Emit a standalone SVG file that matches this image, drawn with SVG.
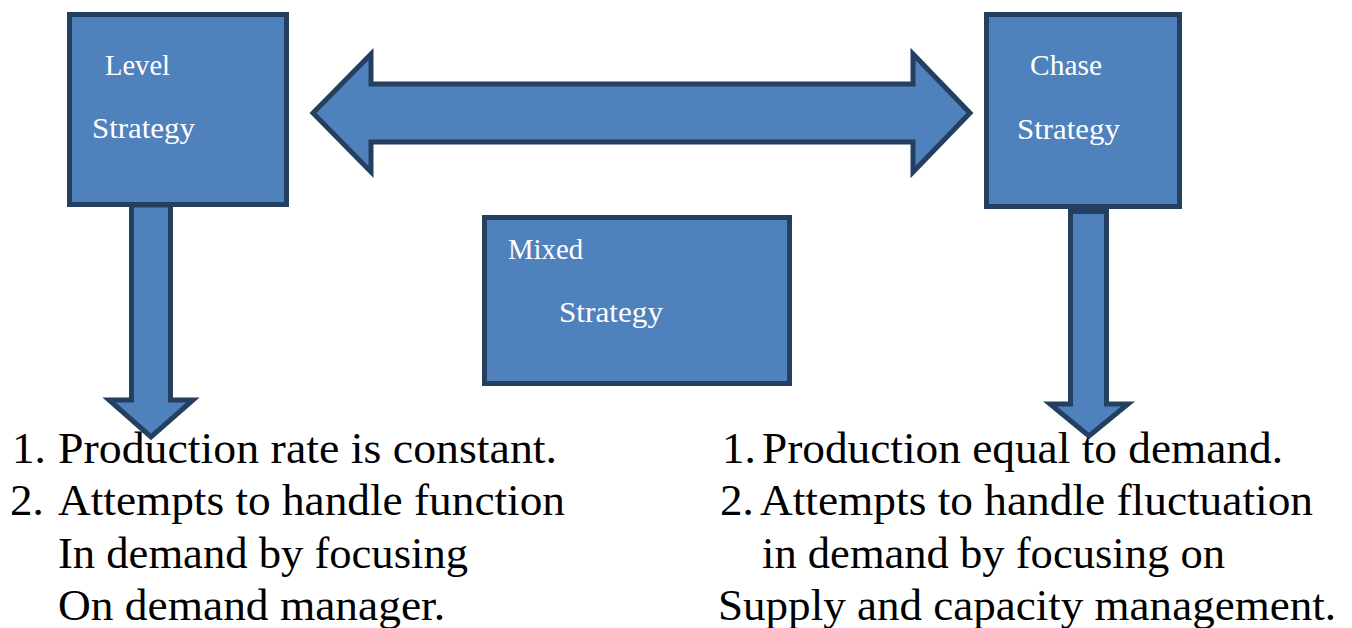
<svg xmlns="http://www.w3.org/2000/svg" width="1352" height="628" viewBox="0 0 1352 628">
  <style>
    .shape { fill: #4F81BD; stroke: #243F60; stroke-width: 5; stroke-linejoin: miter; }
    .label { font-family: "Liberation Serif", "Times New Roman", serif; font-size: 30px; fill: #FFFFFF; }
    .note { font-family: "Liberation Serif", "Times New Roman", serif; font-size: 45px; fill: #000000; }
  </style>
  <rect width="1352" height="628" fill="#FFFFFF"/>

  <!-- connectors: two-way block arrow and the two downward block arrows -->
  <g id="connectors">
    <polygon class="shape" points="313,113 371,54 371,84 913,84 913,54 970,113 913,172 913,142 371,142 371,172"/>
    <polygon class="shape" points="131.5,205 170.5,205 170.5,400 193,400 151,437 109,400 131.5,400"/>
    <polygon class="shape" points="1070.5,211.5 1106.5,211.5 1106.5,404 1128,404 1089,436 1050,404 1070.5,404"/>
  </g>

  <g id="level">
    <rect class="shape" x="69.5" y="14.5" width="217" height="190"/>
    <text class="label" x="105" y="75" textLength="65" lengthAdjust="spacingAndGlyphs">Level</text>
    <text class="label" x="92" y="138" textLength="103" lengthAdjust="spacingAndGlyphs">Strategy</text>
  </g>

  <g id="chase">
    <rect class="shape" x="986.5" y="14.5" width="193" height="192"/>
    <text class="label" x="1030" y="75" textLength="72" lengthAdjust="spacingAndGlyphs">Chase</text>
    <text class="label" x="1017" y="139" textLength="103" lengthAdjust="spacingAndGlyphs">Strategy</text>
  </g>

  <g id="mixed">
    <rect class="shape" x="484.5" y="217.5" width="305" height="166"/>
    <text class="label" x="508" y="259" textLength="75" lengthAdjust="spacingAndGlyphs">Mixed</text>
    <text class="label" x="559" y="322" textLength="104" lengthAdjust="spacingAndGlyphs">Strategy</text>
  </g>

  <g id="level-notes">
    <text class="note" x="12" y="463">1.</text>
    <text class="note" x="58" y="463" textLength="499" lengthAdjust="spacingAndGlyphs">Production rate is constant.</text>
    <text class="note" x="10" y="515">2.</text>
    <text class="note" x="58" y="515" textLength="507" lengthAdjust="spacingAndGlyphs">Attempts to handle function</text>
    <text class="note" x="58" y="568" textLength="410" lengthAdjust="spacingAndGlyphs">In demand by focusing</text>
    <text class="note" x="58" y="620" textLength="387" lengthAdjust="spacingAndGlyphs">On demand manager.</text>
  </g>

  <g id="chase-notes">
    <text class="note" x="722" y="463">1.</text>
    <text class="note" x="762" y="463" textLength="521" lengthAdjust="spacingAndGlyphs">Production equal to demand.</text>
    <text class="note" x="720" y="515">2.</text>
    <text class="note" x="760" y="515" textLength="553" lengthAdjust="spacingAndGlyphs">Attempts to handle fluctuation</text>
    <text class="note" x="762" y="568" textLength="463" lengthAdjust="spacingAndGlyphs">in demand by focusing on</text>
    <text class="note" x="718" y="620" textLength="618" lengthAdjust="spacingAndGlyphs">Supply and capacity management.</text>
  </g>
</svg>
